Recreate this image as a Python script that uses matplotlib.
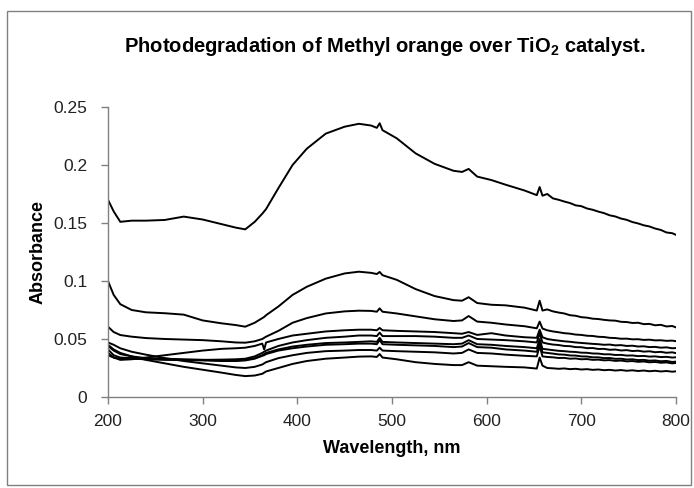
import matplotlib
matplotlib.use('Agg')
from matplotlib import pyplot as plt
from matplotlib.patches import Rectangle
from matplotlib.ticker import FuncFormatter

plt.rcParams['font.family'] = ['Liberation Sans', 'DejaVu Sans']

# Wavelength grid (nm) shared by all spectra
wavelength = [200, 206, 213, 225, 240, 260, 280, 300, 320, 335, 345, 355, 363, 365, 367,
              380, 395, 410, 430, 450, 465, 478, 484, 487, 490, 505, 525, 545, 565, 574,
              581, 590, 605, 620, 640, 653, 656, 659,
              664, 670, 676, 682, 688, 694, 700, 706, 712, 718, 724, 730, 736, 742, 748,
              754, 760, 766, 772, 778, 784, 790, 796, 800]

# Absorbance spectra, first scan on top
abs_1 = [0.170, 0.160, 0.151, 0.152, 0.152, 0.1526, 0.1555, 0.153, 0.149, 0.146, 0.1445,
         0.151, 0.158, 0.160, 0.162, 0.180, 0.200, 0.214, 0.227, 0.233, 0.2355, 0.234,
         0.232, 0.236, 0.230, 0.223, 0.210, 0.201, 0.195, 0.194, 0.1966, 0.190, 0.187,
         0.183, 0.178, 0.174, 0.181, 0.1735,
         0.1750, 0.1712, 0.1700, 0.1685, 0.1672, 0.1652, 0.1645, 0.1625, 0.1614, 0.1598,
         0.1585, 0.1566, 0.1556, 0.1538, 0.1527, 0.1508, 0.1496, 0.1480, 0.1470, 0.1452,
         0.1440, 0.1418, 0.1412, 0.1398]
abs_2 = [0.100, 0.088, 0.080, 0.075, 0.073, 0.0722, 0.071, 0.066, 0.0635, 0.062, 0.0606,
         0.064, 0.068, 0.069, 0.0705, 0.078, 0.088, 0.095, 0.102, 0.1065, 0.108, 0.107,
         0.106, 0.1078, 0.105, 0.101, 0.093, 0.087, 0.0835, 0.083, 0.086, 0.081, 0.0795,
         0.079, 0.077, 0.0745, 0.083, 0.0745,
         0.0755, 0.0738, 0.0728, 0.0720, 0.0705, 0.0700, 0.0688, 0.0684, 0.0675, 0.0672,
         0.0665, 0.0660, 0.0658, 0.0648, 0.0646, 0.0638, 0.0640, 0.0628, 0.0630, 0.0618,
         0.0622, 0.0608, 0.0612, 0.0600]
abs_3 = [0.0606, 0.056, 0.0534, 0.052, 0.0508, 0.050, 0.0495, 0.049, 0.048, 0.047, 0.0468,
         0.048, 0.050, 0.051, 0.052, 0.057, 0.064, 0.068, 0.072, 0.0738, 0.0744, 0.0742,
         0.0735, 0.0764, 0.0735, 0.072, 0.0695, 0.067, 0.0655, 0.066, 0.0698, 0.065, 0.064,
         0.0625, 0.061, 0.0592, 0.065, 0.059,
         0.0575, 0.0565, 0.0558, 0.0550, 0.0546, 0.0538, 0.0535, 0.0528, 0.0526, 0.0519,
         0.0517, 0.0510, 0.0508, 0.0502, 0.0503, 0.0497, 0.0498, 0.0492, 0.0494, 0.0488,
         0.0489, 0.0484, 0.0486, 0.0481]
abs_4 = [0.038, 0.034, 0.032, 0.0325, 0.034, 0.036, 0.038, 0.040, 0.0415, 0.042, 0.0425,
         0.044, 0.046, 0.041, 0.047, 0.050, 0.053, 0.0545, 0.0565, 0.0575, 0.058, 0.058,
         0.0575, 0.0595, 0.0575, 0.057, 0.0565, 0.056, 0.055, 0.0545, 0.056, 0.0535, 0.055,
         0.053, 0.0515, 0.051, 0.058, 0.0515,
         0.0500, 0.0492, 0.0486, 0.0480, 0.0476, 0.0470, 0.0466, 0.0462, 0.0458, 0.0455,
         0.0450, 0.0452, 0.0445, 0.0447, 0.0440, 0.0442, 0.0435, 0.0437, 0.0430, 0.0432,
         0.0425, 0.0428, 0.0420, 0.0422]
abs_5 = [0.041, 0.036, 0.034, 0.0335, 0.033, 0.0325, 0.032, 0.032, 0.0322, 0.0325, 0.033,
         0.035, 0.038, 0.039, 0.040, 0.044, 0.047, 0.049, 0.051, 0.052, 0.053, 0.053,
         0.0525, 0.0555, 0.0525, 0.0525, 0.0525, 0.052, 0.051, 0.051, 0.053, 0.050, 0.0495,
         0.049, 0.048, 0.047, 0.055, 0.047,
         0.0460, 0.0452, 0.0448, 0.0440, 0.0438, 0.0430, 0.0429, 0.0421, 0.0422, 0.0414,
         0.0415, 0.0407, 0.0409, 0.0401, 0.0404, 0.0396, 0.0399, 0.0391, 0.0394, 0.0386,
         0.0389, 0.0381, 0.0385, 0.0378]
abs_6 = [0.044, 0.040, 0.037, 0.035, 0.0335, 0.033, 0.0325, 0.032, 0.0315, 0.0315, 0.032,
         0.0335, 0.036, 0.037, 0.038, 0.041, 0.0435, 0.045, 0.0465, 0.047, 0.0475, 0.048,
         0.0475, 0.051, 0.0475, 0.047, 0.0465, 0.046, 0.0455, 0.046, 0.049, 0.0455, 0.045,
         0.044, 0.043, 0.042, 0.050, 0.0415,
         0.0410, 0.0404, 0.0398, 0.0395, 0.0390, 0.0388, 0.0382, 0.0381, 0.0375, 0.0374,
         0.0368, 0.0368, 0.0362, 0.0363, 0.0357, 0.0358, 0.0352, 0.0354, 0.0348, 0.0350,
         0.0344, 0.0346, 0.0340, 0.0342]
abs_7 = [0.036, 0.034, 0.033, 0.033, 0.0325, 0.032, 0.0318, 0.0315, 0.031, 0.031, 0.0315,
         0.033, 0.0355, 0.036, 0.037, 0.040, 0.042, 0.0435, 0.045, 0.0455, 0.046, 0.046,
         0.0455, 0.049, 0.0455, 0.045, 0.0445, 0.044, 0.043, 0.0435, 0.0465, 0.043, 0.0425,
         0.041, 0.040, 0.039, 0.047, 0.0385,
         0.0380, 0.0374, 0.0367, 0.0365, 0.0358, 0.0357, 0.0350, 0.0349, 0.0342, 0.0342,
         0.0335, 0.0336, 0.0329, 0.0330, 0.0323, 0.0325, 0.0318, 0.0320, 0.0313, 0.0315,
         0.0308, 0.0311, 0.0302, 0.0305]
abs_8 = [0.047, 0.045, 0.042, 0.039, 0.0365, 0.0335, 0.031, 0.029, 0.027, 0.0255, 0.025,
         0.026, 0.028, 0.029, 0.030, 0.0335, 0.036, 0.038, 0.0395, 0.040, 0.0405, 0.0405,
         0.040, 0.0425, 0.040, 0.0395, 0.039, 0.0385, 0.0375, 0.038, 0.041, 0.038, 0.0375,
         0.0365, 0.0355, 0.035, 0.044, 0.035,
         0.0345, 0.0342, 0.0336, 0.0337, 0.0330, 0.0332, 0.0325, 0.0327, 0.0320, 0.0322,
         0.0316, 0.0318, 0.0311, 0.0314, 0.0307, 0.0310, 0.0303, 0.0306, 0.0299, 0.0302,
         0.0295, 0.0298, 0.0290, 0.0293]
abs_9 = [0.045, 0.041, 0.038, 0.035, 0.032, 0.029, 0.026, 0.0235, 0.021, 0.019, 0.018,
         0.0185, 0.020, 0.021, 0.022, 0.025, 0.0285, 0.031, 0.033, 0.034, 0.0348, 0.035,
         0.0345, 0.037, 0.034, 0.0325, 0.030, 0.0285, 0.0275, 0.0275, 0.030, 0.027, 0.0265,
         0.026, 0.0255, 0.0245, 0.034, 0.027,
         0.0250, 0.0247, 0.0243, 0.0246, 0.0240, 0.0243, 0.0237, 0.0240, 0.0234, 0.0237,
         0.0231, 0.0234, 0.0228, 0.0232, 0.0226, 0.0230, 0.0224, 0.0228, 0.0222, 0.0226,
         0.0220, 0.0224, 0.0218, 0.0221]

spectra = [abs_1, abs_2, abs_3, abs_4, abs_5, abs_6, abs_7, abs_8, abs_9]

fig = plt.figure(figsize=(6.94, 4.88), dpi=100)
ax = fig.add_axes([0.1556, 0.1865, 0.8184, 0.5943])

for spec in spectra:
    ax.plot(wavelength, spec, color='black', linewidth=1.4)

ax.set_xlim(200, 800)
ax.set_ylim(0, 0.25)
ax.set_xticks([200, 300, 400, 500, 600, 700, 800])
ax.set_yticks([0, 0.05, 0.1, 0.15, 0.2, 0.25])
ax.yaxis.set_major_formatter(FuncFormatter(lambda v, pos: '%g' % v))

for side in ['top', 'right']:
    ax.spines[side].set_visible(False)
for side in ['left', 'bottom']:
    ax.spines[side].set_color('#808080')
    ax.spines[side].set_linewidth(1.0)
ax.tick_params(axis='both', direction='out', length=5, width=1.0,
               color='#808080', labelsize=12.5, labelcolor='#222222')
ax.tick_params(axis='x', pad=7)
ax.tick_params(axis='y', pad=10)

ax.set_xlabel('Wavelength, nm', fontsize=13, fontweight='bold', labelpad=8)
ax.set_ylabel('Absorbance', fontsize=13, fontweight='bold', labelpad=5)

fig.text(0.555, 1 - 47 / 488, 'Photodegradation of Methyl orange over TiO$_\\mathregular{2}$ catalyst.',
         ha='center', va='center', fontsize=14.5, fontweight='bold')

# Chart border
fig.patches.append(Rectangle((7 / 694, 3 / 488), 684 / 694, 474 / 488,
                             transform=fig.transFigure, fill=False,
                             edgecolor='#808080', linewidth=1.0))

fig.savefig('out.png', dpi=100)
